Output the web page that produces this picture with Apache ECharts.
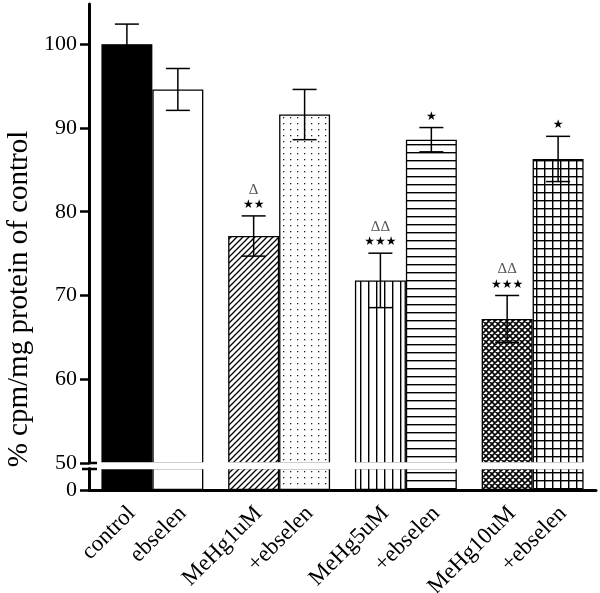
<!DOCTYPE html>
<html><head><meta charset="utf-8">
<script src="https://cdn.jsdelivr.net/npm/echarts@6/dist/echarts.min.js"></script>
<style>html,body{margin:0;padding:0;background:#fff}#c{width:600px;height:593px}</style>
</head><body><div id="c"></div>
<script>
// ---- data ----
const labels = ['control', 'ebselen', 'MeHg1uM', '+ebselen', 'MeHg5uM', '+ebselen', 'MeHg10uM', '+ebselen'];
const groups = ['g1', 'g2', 'g3', 'g4'];
const means = [100, 94.6, 77.1, 91.6, 71.8, 88.6, 67.2, 86.3];
const sems  = [2.4, 2.5, 2.4, 3.0, 3.25, 1.45, 2.8, 2.7];
const stars  = ['', '', '★★', '', '★★★', '★', '★★★', '★'];
const deltas = ['', '', 'Δ', '', 'ΔΔ', '', 'ΔΔ', ''];
const patterns = ['solid', 'white', 'diag', 'dots', 'vlines', 'hlines', 'cross', 'grid'];
const upperTicks = [50, 60, 70, 80, 90, 100];
const lowerTicks = [0];
const yTitle = '% cpm/mg protein of control';

// ---- patterns ----
function makePattern(kind) {
  if (kind === 'solid') return '#000';
  if (kind === 'white') return '#fff';
  const c = document.createElement('canvas');
  let w = 8, h = 8;
  if (kind === 'diag' || kind === 'cross') { w = 6; h = 6; }
  if (kind === 'dots') { w = 7; h = 6; }
  c.width = w; c.height = h;
  const ctx = c.getContext('2d');
  ctx.fillStyle = '#fff'; ctx.fillRect(0, 0, w, h);
  ctx.fillStyle = '#000'; ctx.strokeStyle = '#000';
  if (kind === 'diag' || kind === 'cross') {
    const s = w;
    ctx.lineWidth = kind === 'cross' ? 1.6 : 1.3;
    ctx.beginPath();
    ctx.moveTo(0, s); ctx.lineTo(s, 0);
    ctx.moveTo(-1, 1); ctx.lineTo(1, -1);
    ctx.moveTo(s - 1, s + 1); ctx.lineTo(s + 1, s - 1);
    if (kind === 'cross') {
      ctx.moveTo(0, 0); ctx.lineTo(s, s);
      ctx.moveTo(s - 1, -1); ctx.lineTo(s + 1, 1);
      ctx.moveTo(-1, s - 1); ctx.lineTo(1, s + 1);
    }
    ctx.stroke();
  } else if (kind === 'dots') {
    ctx.fillStyle = '#222';
    ctx.fillRect(3, 3, 1.3, 1.3);
  } else if (kind === 'vlines') {
    ctx.fillRect(0, 0, 1.4, h);
  } else if (kind === 'hlines') {
    ctx.fillRect(0, 0, w, 1.4);
  } else if (kind === 'grid') {
    ctx.fillRect(0, 0, w, 1.4);
    ctx.fillRect(0, 0, 1.4, h);
  }
  return { image: c, repeat: 'repeat' };
}
const fills = patterns.map(makePattern);

const serif = '"Liberation Serif", "Times New Roman", serif';
const BAR_FRAC = 0.402;

function barData(slot, withLabel) {
  const out = [];
  for (let i = slot; i < labels.length; i += 2) {
    const d = { value: means[i], itemStyle: { color: fills[i] } };
    if (withLabel) d.label = { formatter: labels[i] };
    out.push(d);
  }
  return out;
}

const barStyle = { borderColor: '#000', borderWidth: 1.3 };
const labelCfg = {
  show: true, position: 'bottom', distance: 20, offset: [3.5, 3.5], rotate: 45,
  align: 'right', verticalAlign: 'middle', color: '#000', fontFamily: serif, fontSize: 23
};

const series = [];
[0, 1].forEach(slot => {
  series.push({
    type: 'bar', xAxisIndex: 0, yAxisIndex: 0, barWidth: (BAR_FRAC * 100) + '%', barGap: '0%',
    itemStyle: barStyle, data: barData(slot, false), silent: true
  });
  series.push({
    type: 'bar', xAxisIndex: 1, yAxisIndex: 1, barWidth: (BAR_FRAC * 100) + '%', barGap: '0%',
    itemStyle: barStyle, data: barData(slot, true), label: labelCfg, silent: true
  });
});

series.push({
  type: 'custom', xAxisIndex: 0, yAxisIndex: 0, z: 5, silent: true,
  encode: { x: 0, y: 1 },
  data: labels.map((_, i) => [Math.floor(i / 2), means[i], sems[i], i % 2, i]),
  renderItem(params, api) {
    const g = api.value(0), m = api.value(1), s = api.value(2), slot = api.value(3), idx = api.value(4);
    const band = api.size([1, 0])[0];
    const bw = band * BAR_FRAC;
    const cx = api.coord([g, m])[0] + (slot === 0 ? -bw / 2 : bw / 2);
    const yTop = api.coord([g, m + s])[1];
    const yBot = api.coord([g, m - s])[1];
    const hw = 12;
    const st = { stroke: '#000', lineWidth: 1.5 };
    const ch = [
      { type: 'line', shape: { x1: cx, y1: yTop, x2: cx, y2: yBot }, style: st },
      { type: 'line', shape: { x1: cx - hw, y1: yTop, x2: cx + hw, y2: yTop }, style: st },
      { type: 'line', shape: { x1: cx - hw, y1: yBot, x2: cx + hw, y2: yBot }, style: st }
    ];
    if (stars[idx]) ch.push({ type: 'text', x: cx, y: yTop - 11, style: { text: stars[idx], fill: '#000', font: '12px "DejaVu Sans"', align: 'center', verticalAlign: 'middle' } });
    if (deltas[idx]) ch.push({ type: 'text', x: cx, y: yTop - 26, style: { text: deltas[idx], fill: '#555', font: '15px ' + serif, align: 'center', verticalAlign: 'middle' } });
    return { type: 'group', children: ch };
  }
});

const axisLineStyle = { color: '#000', width: 3 };
const option = {
  animation: false,
  backgroundColor: '#fff',
  grid: [
    { left: 89, top: 4, width: 507, height: 459 },
    { left: 89, top: 468.5, width: 507, height: 21.5 }
  ],
  xAxis: [
    { type: 'category', gridIndex: 0, data: groups, show: false },
    { type: 'category', gridIndex: 1, data: groups, axisLine: { lineStyle: axisLineStyle }, axisTick: { show: false }, axisLabel: { show: false } }
  ],
  yAxis: [
    { type: 'value', gridIndex: 0, min: 50, max: 104.8, splitLine: { show: false },
      axisLine: { show: true, lineStyle: axisLineStyle },
      axisTick: { show: true, length: 9, lineStyle: { color: '#000', width: 2.5 }, customValues: upperTicks },
      axisLabel: { customValues: upperTicks, margin: 12, color: '#000', fontFamily: serif, fontSize: 22 } },
    { type: 'value', gridIndex: 1, min: 0, max: 1, splitLine: { show: false },
      axisLine: { show: true, lineStyle: axisLineStyle },
      axisTick: { show: true, length: 9, lineStyle: { color: '#000', width: 2.5 }, customValues: lowerTicks },
      axisLabel: { customValues: lowerTicks, margin: 12, color: '#000', fontFamily: serif, fontSize: 22 } }
  ],
  graphic: [
    { type: 'rect', z: 100, shape: { x: 91, y: 462.3, width: 509, height: 7 }, style: { fill: '#fff' } },
    { type: 'line', z: 101, shape: { x1: 88, y1: 463, x2: 97, y2: 463 }, style: { stroke: '#000', lineWidth: 2.5 } },
    { type: 'line', z: 101, shape: { x1: 82, y1: 469, x2: 97, y2: 469 }, style: { stroke: '#000', lineWidth: 2.5 } },
    { type: 'text', z: 101, x: 19, y: 299, rotation: Math.PI / 2,
      style: { text: yTitle, font: '29px ' + serif, fill: '#000', align: 'center', verticalAlign: 'middle' } }
  ],
  series
};
echarts.init(document.getElementById('c'), null, { renderer: 'canvas' }).setOption(option);
</script></body></html>
